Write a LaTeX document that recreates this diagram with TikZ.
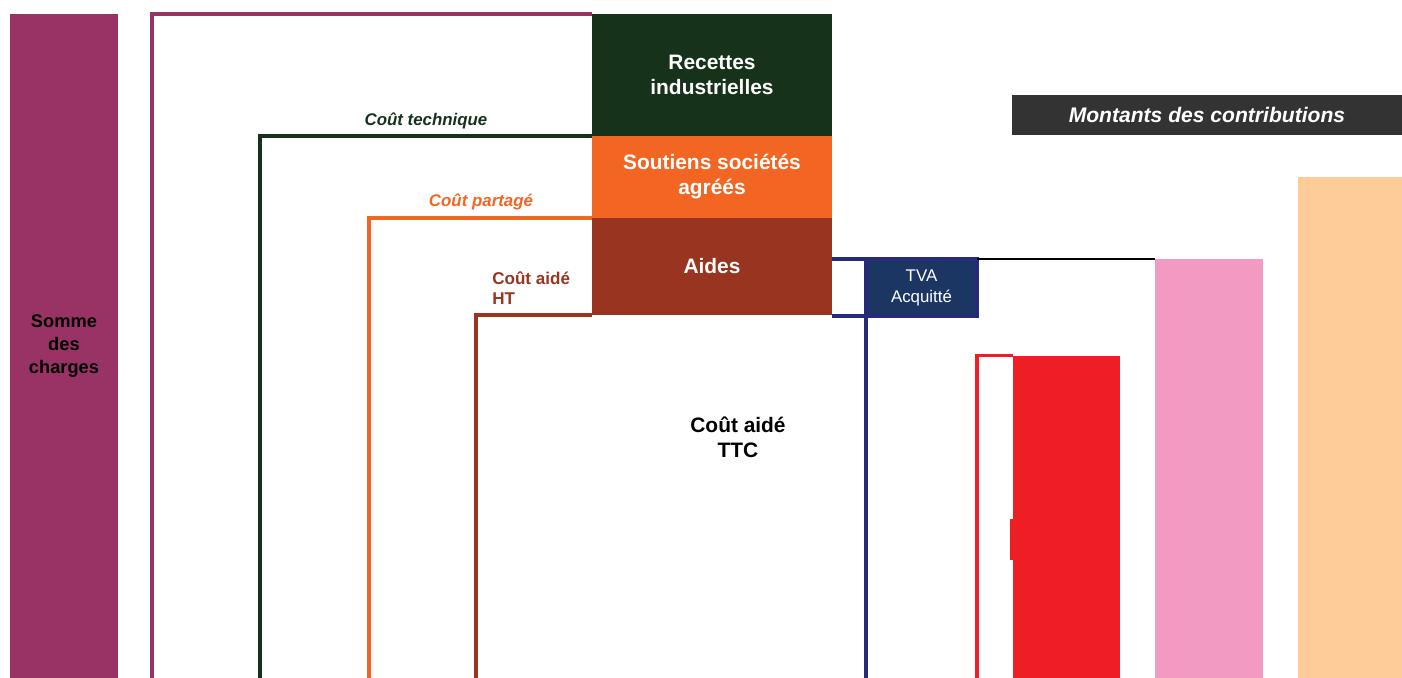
\documentclass[tikz,border=0pt]{standalone}
\usepackage{fontspec}
\setmainfont{Liberation Sans}
\usepackage{tikz}

\definecolor{plum}{HTML}{993366}
\definecolor{dkgreen}{HTML}{16321A}
\definecolor{orng}{HTML}{F26522}
\definecolor{brwn}{HTML}{98341F}
\definecolor{navy}{HTML}{262A78}
\definecolor{navyfill}{HTML}{1C3664}
\definecolor{pnk}{HTML}{F39AC2}
\definecolor{rd}{HTML}{ED1F24}
\definecolor{peach}{HTML}{FDCC99}
\definecolor{dkgrey}{HTML}{333333}

\begin{document}
\begin{tikzpicture}[x=0.02cm,y=-0.02cm,
	block/.style={anchor=north west,inner sep=0pt,outer sep=0pt,align=center,text=white,font=\fontsize{11.9}{14.2}\selectfont\bfseries},
	bar/.style={anchor=north west,inner sep=0pt,outer sep=0pt},
	lbl/.style={inner sep=0pt,font=\fontsize{9.6}{11.4}\selectfont\bfseries\itshape},
	costline/.style={line width=1.8pt}]
	\useasboundingbox (0,0) rectangle (1402,678);
	\node[block,fill=plum,text=black,font=\fontsize{10.4}{13}\selectfont\bfseries,minimum width=2.16cm,minimum height=13.28cm] (charges) at (10,14) {Somme\\des\\charges};
	\node[block,fill=dkgreen,minimum width=4.8cm,minimum height=2.44cm] (rec) at (592,14) {Recettes\\industrielles};
	\node[block,fill=orng,minimum width=4.8cm,minimum height=1.64cm] (sout) at (592,136) {Soutiens sociétés\\agréés};
	\node[block,fill=brwn,minimum width=4.8cm,minimum height=1.94cm] (aides) at (592,218) {Aides};
	\node[block,fill=navyfill,draw=navy,line width=1.8pt,font=\fontsize{9.6}{12}\selectfont,minimum width=2.22cm,minimum height=1.14cm] (tva) at (866,259) {TVA\\Acquitté};
	\node[bar,fill=pnk,minimum width=2.16cm,minimum height=8.38cm] (pink) at (1155,259) {};
	\node[bar,fill=rd,minimum width=2.14cm,minimum height=6.44cm] (red) at (1013,356) {};
	\node[bar,fill=peach,minimum width=2.08cm,minimum height=10.02cm] (peach) at (1298,177) {};
	\node[block,fill=dkgrey,font=\fontsize{12}{14}\selectfont\bfseries\itshape,minimum width=7.8cm,minimum height=0.8cm] (montants) at (1012,95) {Montants des contributions};
	\node[align=center,inner sep=0pt,font=\fontsize{11.9}{14}\selectfont\bfseries] (ttc) at (738,437) {Coût aidé\\TTC};
	% cost frames
	\foreach \x/\to/\col in {152/rec.north west/plum,260/rec.south west/dkgreen,369/sout.south west/orng,476/aides.south west/brwn}
	{
		\coordinate (foot) at (\x,678);
		\draw[costline,\col] (foot) |- (\to);
	}
	\node[lbl,text=dkgreen] (ctech) at (426,121) {Coût technique};
	\node[lbl,text=orng] (cpart) at (481,202) {Coût partagé};
	\node[lbl,text=brwn,font=\fontsize{9.7}{11.4}\selectfont\bfseries,align=left,anchor=west] (cht) at (492,288) {Coût aidé\\HT};
	% TVA
	\draw[costline,navy] (aides.east |- tva.north west) -- (tva.north west);
	\draw[costline,navy] (aides.east |- tva.south west) -- (tva.south west);
	\coordinate (tvafoot) at (866,678);
	\draw[costline,navy] (tva.north west) -- (tvafoot);
	\draw[line width=1.2pt,black] (tva.north east) -- (pink.north west);
	% red
	\coordinate (redfoot) at (977,678);
	\draw[costline,rd] (redfoot) |- ([yshift=0.5pt]red.north west);
	\fill[rd] (1010,519) rectangle (1013,560);
\end{tikzpicture}
\end{document}
